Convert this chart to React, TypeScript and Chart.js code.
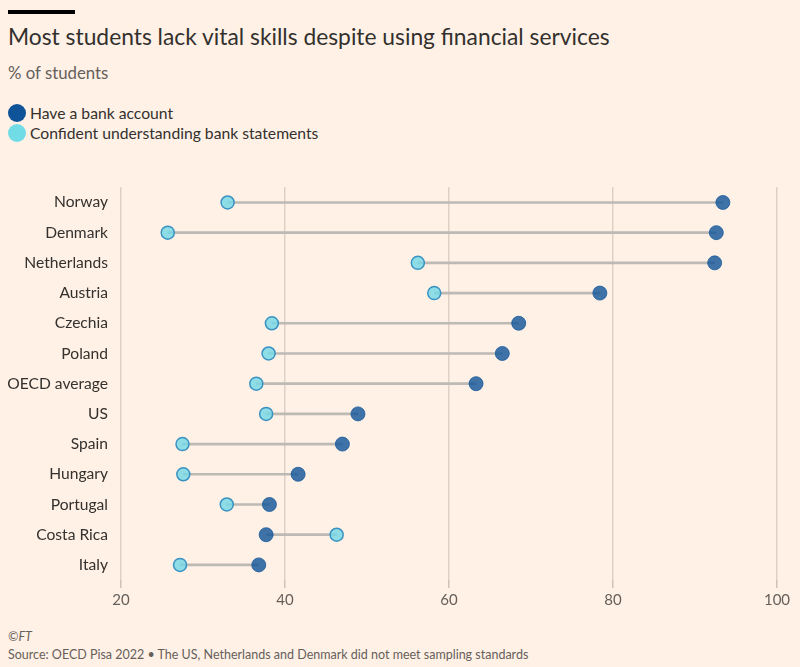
import React, { useEffect, useRef } from "react";
import { Chart, registerables } from "chart.js";

Chart.register(...registerables);

const countries = [
  "Norway",
  "Denmark",
  "Netherlands",
  "Austria",
  "Czechia",
  "Poland",
  "OECD average",
  "US",
  "Spain",
  "Hungary",
  "Portugal",
  "Costa Rica",
  "Italy",
];
const bankAccount = [93.4, 92.6, 92.4, 78.4, 68.5, 66.5, 63.3, 48.9, 47.0, 41.6, 38.1, 37.7, 36.8];
const confident = [33.0, 25.7, 56.2, 58.2, 38.4, 38.0, 36.5, 37.7, 27.5, 27.6, 32.9, 46.3, 27.2];
const xTicks = [20, 40, 60, 80, 100];

const BG = "#FFF1E5";
const FONT = "Lato, 'Open Sans', sans-serif";

export default function App() {
  const ref = useRef<HTMLCanvasElement>(null);

  useEffect(() => {
    document.body.style.margin = "0";
    document.body.style.background = BG;
    const ctx = ref.current!.getContext("2d")!;
    const ranges = countries.map((_, i) => [
      Math.min(bankAccount[i], confident[i]),
      Math.max(bankAccount[i], confident[i]),
    ]);
    const chart = new Chart(ctx, {
      type: "bar",
      data: {
        labels: countries,
        datasets: [
          {
            type: "bar",
            label: "range",
            data: ranges as any,
            backgroundColor: "#bdb9b5",
            borderWidth: 0,
            barThickness: 2,
            order: 3,
          } as any,
          {
            type: "line",
            label: "Confident understanding bank statements",
            data: confident,
            indexAxis: "y",
            showLine: false,
            pointRadius: 6.5,
            pointBorderWidth: 1.5,
            pointBackgroundColor: "rgba(114,216,230,0.8)",
            pointBorderColor: "#3a92c2",
            order: 1,
          } as any,
          {
            type: "line",
            label: "Have a bank account",
            data: bankAccount,
            indexAxis: "y",
            showLine: false,
            pointRadius: 7,
            pointBorderWidth: 1,
            pointBackgroundColor: "rgba(15,84,153,0.8)",
            pointBorderColor: "rgba(15,84,153,0.75)",
            order: 2,
          } as any,
        ],
      },
      options: {
        indexAxis: "y",
        animation: false,
        responsive: false,
        maintainAspectRatio: false,
        layout: { padding: { top: 7, right: 23, left: 0, bottom: 0 } },
        plugins: {
          legend: { display: false },
          tooltip: { enabled: false },
        },
        scales: {
          x: {
            type: "linear",
            min: 20,
            max: 100,
            afterBuildTicks: (s: any) => {
              s.ticks = xTicks.map((v) => ({ value: v }));
            },
            afterFit: (s: any) => {
              s.height = 30;
            },
            grid: {
              color: "#ddd1c5",
              tickColor: "#cdc3b9",
              lineWidth: 1.5,
              tickLength: 8,
              drawTicks: true,
            },
            border: { display: false },
            ticks: {
              color: "#66605c",
              font: { family: FONT, size: 15 },
              padding: 3,
            },
          },
          y: {
            type: "category",
            offset: true,
            afterFit: (s: any) => {
              s.width = 121;
            },
            grid: { display: false, drawTicks: false },
            border: { display: false },
            ticks: {
              color: "#33302e",
              font: { family: FONT, size: 15.6 },
              padding: 13,
              autoSkip: false,
            },
          },
        },
      },
    });
    return () => chart.destroy();
  }, []);

  const text = (extra: React.CSSProperties): React.CSSProperties => ({
    position: "absolute",
    left: 8,
    fontFamily: FONT,
    whiteSpace: "nowrap",
    ...extra,
  });

  return (
    <div
      style={{
        position: "relative",
        width: 800,
        height: 667,
        background: BG,
        overflow: "hidden",
      }}
    >
      <div style={{ position: "absolute", left: 8, top: 10, width: 67, height: 4, background: "#000" }} />
      <div style={text({ top: 22, fontSize: 22.8, lineHeight: "28px", color: "#33302e" })}>
        Most students lack vital skills despite using financial services
      </div>
      <div style={text({ top: 63, fontSize: 16.8, lineHeight: "20px", color: "#66605c" })}>% of students</div>
      <div style={text({ top: 103, fontSize: 15.7, lineHeight: "20px", color: "#33302e", display: "flex", alignItems: "center" })}>
        <span style={{ display: "inline-block", width: 18, height: 18, borderRadius: 9, background: "#0f5499", marginRight: 4 }} />
        Have a bank account
      </div>
      <div style={text({ top: 123, fontSize: 15.7, lineHeight: "20px", color: "#33302e", display: "flex", alignItems: "center" })}>
        <span style={{ display: "inline-block", width: 18, height: 18, borderRadius: 9, background: "#72dce6", marginRight: 4 }} />
        Confident understanding bank statements
      </div>
      <canvas
        ref={ref}
        width={800}
        height={445}
        style={{ position: "absolute", left: 0, top: 165, width: 800, height: 445 }}
      />
      <div style={text({ top: 629, fontSize: 12.5, lineHeight: "16px", color: "#66605c", fontStyle: "italic" })}>©FT</div>
      <div style={text({ top: 647, fontSize: 12.5, lineHeight: "16px", color: "#66605c" })}>
        Source: OECD Pisa 2022 • The US, Netherlands and Denmark did not meet sampling standards
      </div>
    </div>
  );
}
